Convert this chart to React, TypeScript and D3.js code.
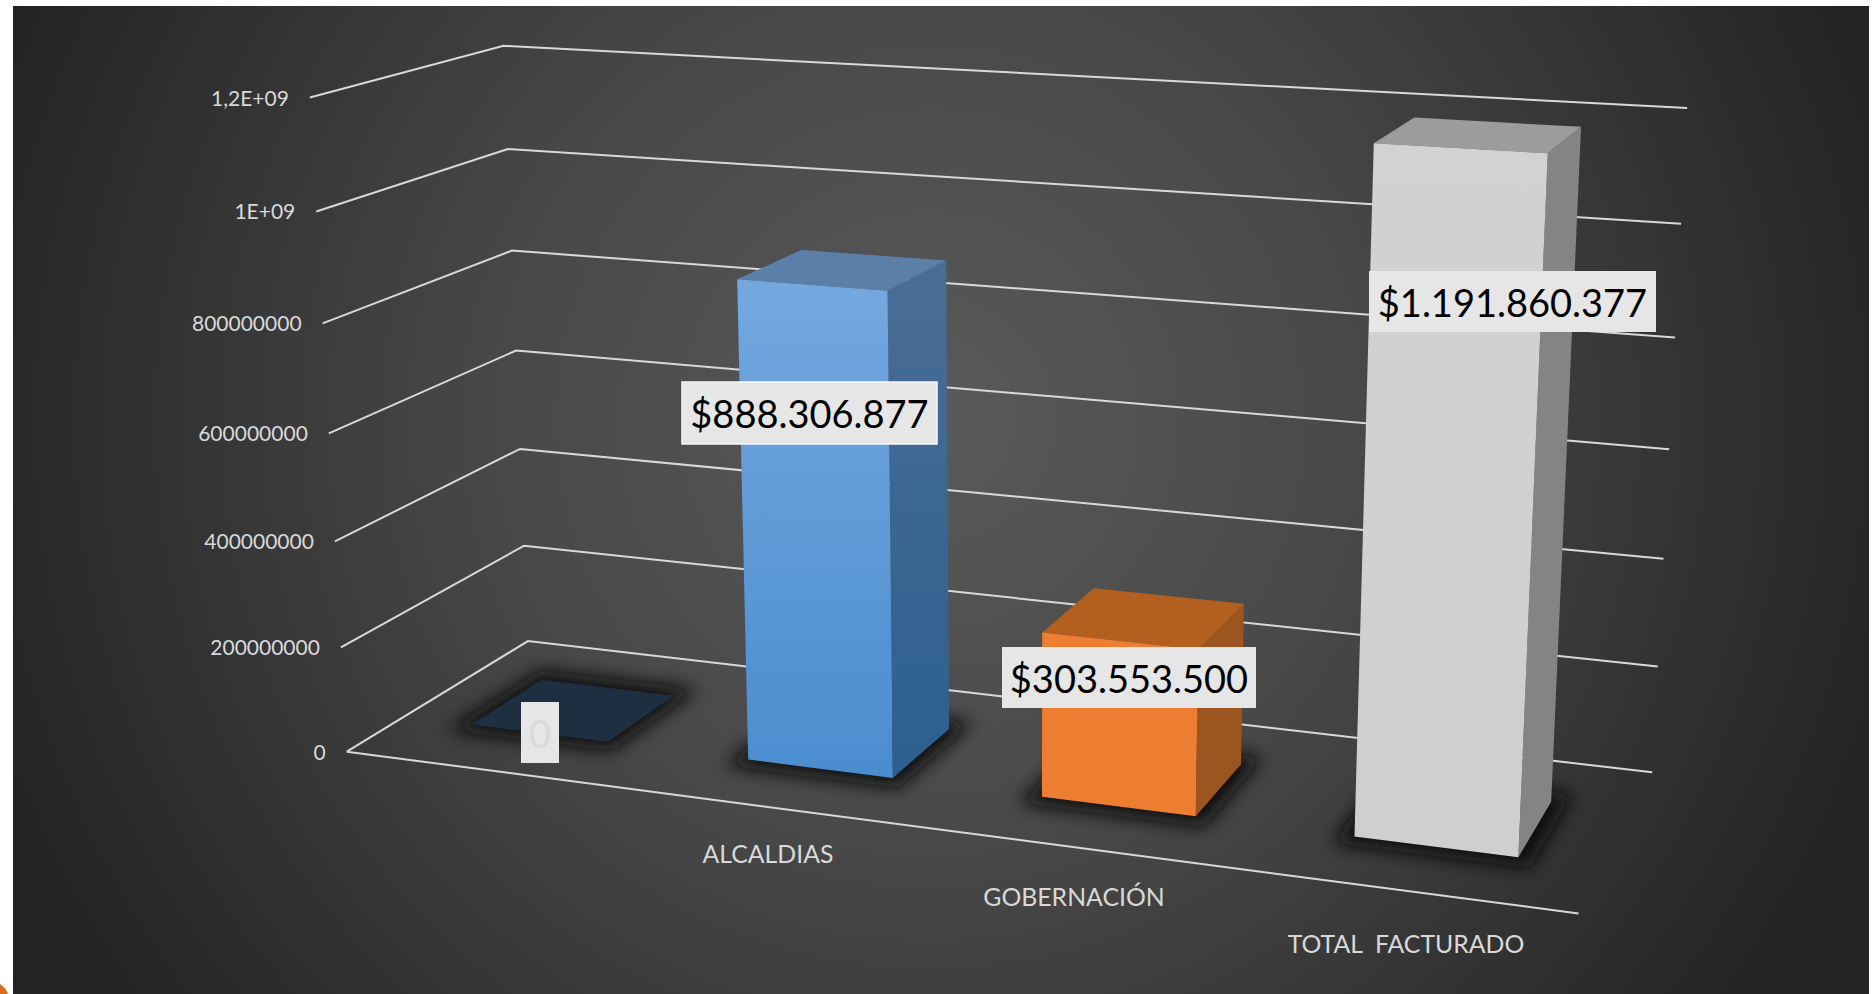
import React from "react";
import * as d3 from "d3";

const categories = ["", "ALCALDIAS", "GOBERNACIÓN", "TOTAL  FACTURADO"];
const values = [0, 888306877, 303553500, 1191860377];
const valueLabels = ["0", "$888.306.877", "$303.553.500", "$1.191.860.377"];
const tickValues = [0, 200000000, 400000000, 600000000, 800000000, 1000000000, 1200000000];
const tickLabels = ["0", "200000000", "400000000", "600000000", "800000000", "1E+09", "1,2E+09"];
const frontTop = ["#1f2f42", "#74a8df", "#ed7d31", "#d3d1d2"];
const frontBottom = ["#1f2f42", "#4a8dcf", "#ed7d31", "#d0cecf"];
const sideTop = ["#1f2f42", "#4a6d96", "#9c551f", "#858485"];
const sideBottom = ["#1f2f42", "#2c5f8f", "#9c551f", "#858485"];
const topFace = ["#1f2f42", "#5a7fa9", "#b35f20", "#9c9c9c"];
const labelBoxes = [
  [521, 702, 38, 61],
  [682, 382, 255, 62],
  [1002, 647, 254, 61],
  [1369, 271, 287, 61],
];
const catLabelPos = [[0, 0], [768, 854], [1074, 897], [1406, 944]];

// camera anchors: [u, v, w, screenX, screenY]
const anchors = [
  [0, 0, 0, 347, 751],
  [1, 0, 0, 1579, 913],
  [0, 0, 1, 528, 641],
  [1, 0, 1, 1652, 773],
  [0, 1, 0, 310, 98],
  [0, 1, 1, 504, 45],
  [1, 1, 1, 1687, 108],
  [0, 0.5, 0, 328, 434],
  [0, 0.5, 1, 516, 351],
  [1, 0.5, 1, 1669, 449],
];

function solve(A: number[][], b: number[]) {
  const n = b.length;
  const M = A.map((r, i) => [...r, b[i]]);
  for (let i = 0; i < n; i++) {
    let p = i;
    for (let k = i + 1; k < n; k++) if (Math.abs(M[k][i]) > Math.abs(M[p][i])) p = k;
    [M[i], M[p]] = [M[p], M[i]];
    for (let k = 0; k < n; k++) {
      if (k === i) continue;
      const f = M[k][i] / M[i][i];
      for (let j = i; j <= n; j++) M[k][j] -= f * M[i][j];
    }
  }
  return M.map((r, i) => r[n] / r[i]);
}

function fitCamera() {
  const rows: number[][] = [];
  const rhs: number[] = [];
  anchors.forEach(([u, v, w, x, y]) => {
    rows.push([u, v, w, 1, 0, 0, 0, 0, -x * u, -x * v, -x * w]);
    rhs.push(x);
    rows.push([0, 0, 0, 0, u, v, w, 1, -y * u, -y * v, -y * w]);
    rhs.push(y);
  });
  const N = 11;
  const AtA = d3.range(N).map((i) => d3.range(N).map((j) => d3.sum(rows, (r) => r[i] * r[j])));
  const Atb = d3.range(N).map((i) => d3.sum(rows, (r, k) => r[i] * rhs[k]));
  return solve(AtA, Atb);
}
const c = fitCamera();
const project = (u: number, v: number, w: number): [number, number] => {
  const d = c[8] * u + c[9] * v + c[10] * w + 1;
  return [(c[0] * u + c[1] * v + c[2] * w + c[3]) / d, (c[4] * u + c[5] * v + c[6] * w + c[7]) / d];
};

const xBand = d3.scaleBand<number>().domain(d3.range(categories.length)).range([0, 1]).paddingInner(0.5).paddingOuter(0.25);
const yScale = d3.scaleLinear().domain([0, 1200000000]).range([0, 1]);
const depth = [0.3, 0.7];
const line = d3.line();
const poly = (pts: [number, number][]) => line(pts)! + "Z";

export default function App() {
  const grid = "#d9d9d9";
  return (
    <div style={{ position: "absolute", left: 0, top: 0, width: 1876, height: 994, overflow: "hidden", background: "#fff" }}>
      <svg width={1876} height={994} style={{ display: "block" }} fontFamily="Lato, sans-serif">
        <defs>
          <radialGradient id="bg" gradientUnits="userSpaceOnUse" cx={930} cy={420} r={1000}>
            <stop offset="0" stopColor="#5a5a5a" />
            <stop offset="0.45" stopColor="#474747" />
            <stop offset="1" stopColor="#232323" />
          </radialGradient>
          <filter id="blur" x="-50%" y="-50%" width="200%" height="200%">
            <feGaussianBlur stdDeviation="9" />
          </filter>
          {values.map((_, i) => (
            <React.Fragment key={i}>
              <linearGradient id={`front${i}`} x1="0" y1="0" x2="0" y2="1">
                <stop offset="0" stopColor={frontTop[i]} />
                <stop offset="1" stopColor={frontBottom[i]} />
              </linearGradient>
              <linearGradient id={`side${i}`} x1="0" y1="0" x2="0" y2="1">
                <stop offset="0" stopColor={sideTop[i]} />
                <stop offset="1" stopColor={sideBottom[i]} />
              </linearGradient>
            </React.Fragment>
          ))}
        </defs>
        <rect x={13} y={6} width={1856} height={988} fill="url(#bg)" />
        <path d="M0,994 L0,984 Q6,988 8,994 Z" fill="#d8701f" />

        {tickValues.map((t, i) => {
          const v = yScale(t);
          const a = project(0, v, 0);
          const b = project(0, v, 1);
          const e = project(1, v, 1);
          return (
            <g key={t}>
              <path d={line([a, b, e])!} fill="none" stroke={grid} strokeWidth={2} />
              <text x={a[0] - 21} y={a[1] + 8} textAnchor="end" fontSize={21} fill="#d9d9d9">
                {tickLabels[i]}
              </text>
            </g>
          );
        })}
        <path d={line([project(0, 0, 0), project(1, 0, 0)])!} fill="none" stroke={grid} strokeWidth={2} />

        {values.map((_, i) => {
          const u0 = xBand(i)!;
          const u1 = u0 + xBand.bandwidth();
          return (
            <path
              key={i}
              d={poly([project(u0 - 0.012, 0, depth[0] - 0.06), project(u1 + 0.012, 0, depth[0] - 0.06), project(u1 + 0.012, 0, depth[1] + 0.07), project(u0 - 0.012, 0, depth[1] + 0.07)])}
              fill="#0a0a0a"
              filter="url(#blur)"
            />
          );
        })}

        {values.map((val, i) => {
          const u0 = xBand(i)!;
          const u1 = u0 + xBand.bandwidth();
          const v = yScale(val);
          const [w0, w1] = depth;
          return (
            <g key={i}>
              <path d={poly([project(u1, 0, w0), project(u1, 0, w1), project(u1, v, w1), project(u1, v, w0)])} fill={`url(#side${i})`} />
              <path d={poly([project(u0, v, w0), project(u1, v, w0), project(u1, v, w1), project(u0, v, w1)])} fill={topFace[i]} />
              {val > 0 && <path d={poly([project(u0, 0, w0), project(u1, 0, w0), project(u1, v, w0), project(u0, v, w0)])} fill={`url(#front${i})`} />}
            </g>
          );
        })}

        {categories.map((cat, i) =>
          cat ? (
            <text key={i} x={catLabelPos[i][0]} y={catLabelPos[i][1] + 9} textAnchor="middle" fontSize={24.8} fill="#d9d9d9" style={{ whiteSpace: "pre" }}>
              {cat}
            </text>
          ) : null
        )}

        {valueLabels.map((lab, i) => {
          const [x, y, w, h] = labelBoxes[i];
          return (
            <g key={i}>
              <rect x={x} y={y} width={w} height={h} fill="#e6e6e6" stroke={i === 1 ? "#f7f7f7" : "none"} strokeWidth={1.5} />
              <text x={x + w / 2} y={y + h / 2 + 15} textAnchor="middle" fontSize={38} fill={i === 0 ? "#d9d9d9" : "#000"}>
                {lab}
              </text>
            </g>
          );
        })}
      </svg>
    </div>
  );
}
